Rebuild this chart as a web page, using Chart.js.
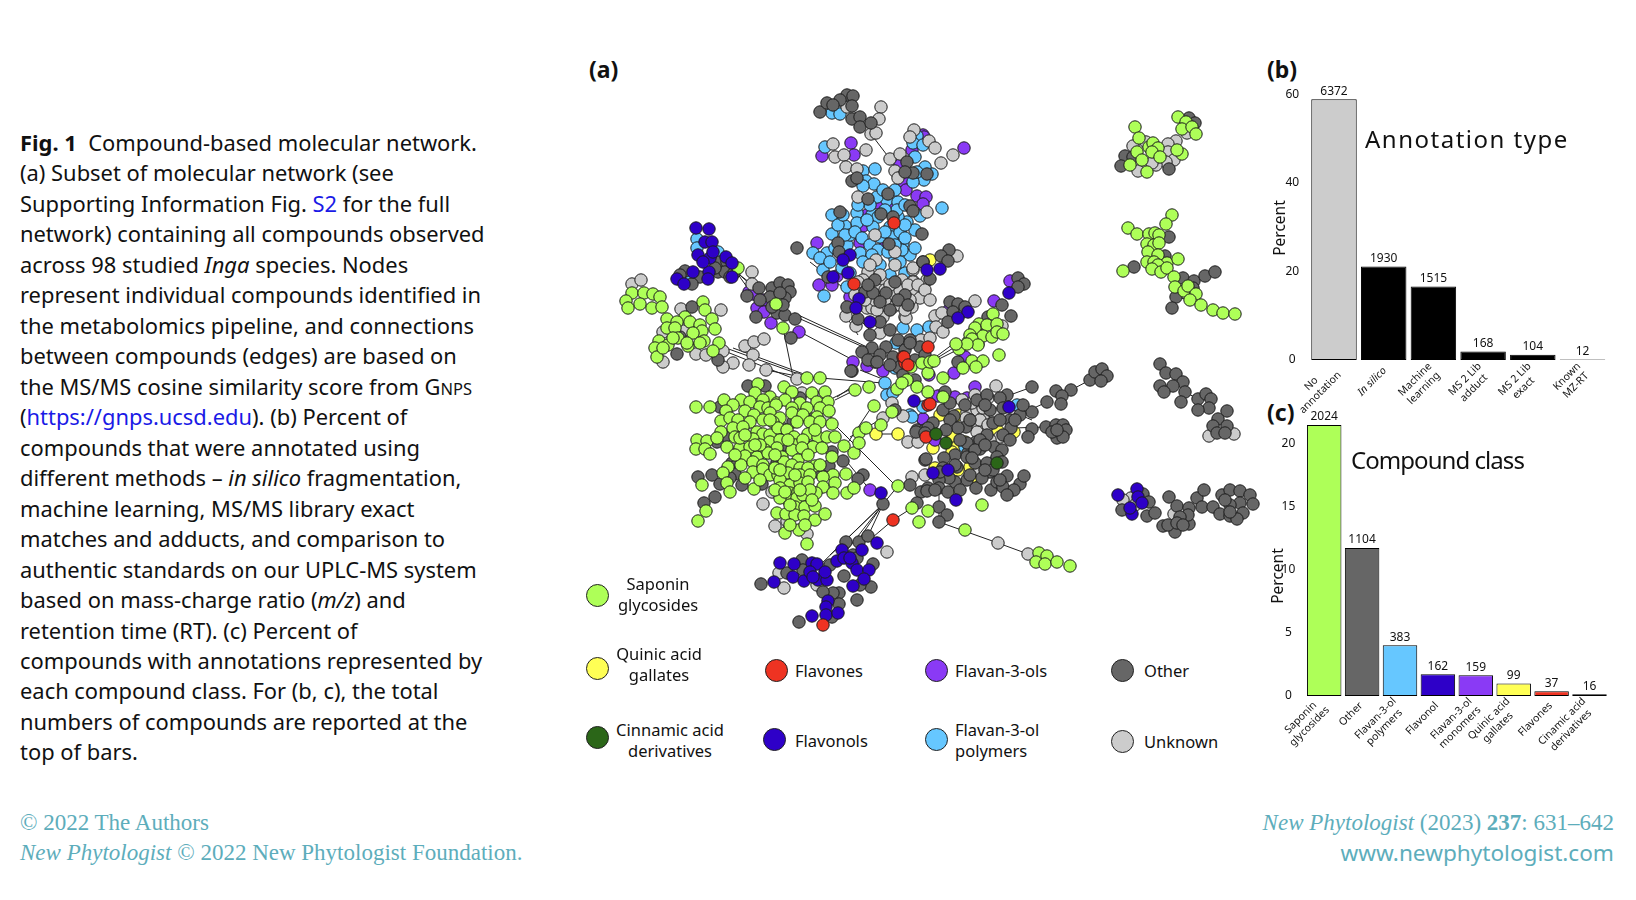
<!DOCTYPE html>
<html>
<head>
<meta charset="utf-8">
<title>Compound-based molecular network</title>
<script src="https://cdn.jsdelivr.net/npm/chart.js@4"></script>
<style>
  html, body { margin: 0; background: #fff; }
  body { width: 1636px; height: 900px; overflow: hidden; position: relative; font-family: "Noto Sans", sans-serif; color: #111; }
  canvas { position: absolute; }
  .cap { position: absolute; left: 20px; white-space: nowrap; font-size: 21.9px; line-height: 30px; }
  .cap a { color: #1a1ae6; }
  .sc { font-size: 16.5px; }
  .foot { position: absolute; white-space: nowrap; font-family: "Liberation Serif", serif; font-size: 23px; color: #5dadbb; line-height: 30px; }
  .web { font-family: "Noto Sans", sans-serif; font-size: 22.6px; }
  .panel { position: absolute; font-weight: 700; font-size: 23px; line-height: 28px; }
  .leg { position: absolute; font-size: 16.5px; line-height: 21px; white-space: nowrap; }
  .dot { position: absolute; width: 23px; height: 23px; border-radius: 50%; border: 1px solid #222; box-sizing: border-box; }
  .ptitle { position: absolute; white-space: nowrap; }
  .rot { position: absolute; white-space: nowrap; transform: translate(-50%, -50%) rotate(-90deg); font-size: 15.5px; }
</style>
</head>
<body>
<div id="caption"></div>
<div class="foot" style="left:20px;top:808px">© 2022 The Authors</div>
<div class="foot" style="left:20px;top:838px"><i>New Phytologist</i> © 2022 New Phytologist Foundation.</div>
<div class="foot" style="right:22px;top:808px"><i>New Phytologist</i> (2023) <b>237</b>: 631–642</div>
<div class="foot web" style="right:22px;top:838px">www.newphytologist.com</div>
<div class="panel" style="left:589px;top:55px">(a)</div>
<div class="panel" style="left:1267px;top:55px">(b)</div>
<div class="panel" style="left:1267px;top:398px">(c)</div>
<canvas id="network" width="682" height="570" style="left:580px;top:80px"></canvas>
<canvas id="annot" width="376" height="370" style="left:1260px;top:60px"></canvas>
<canvas id="compound" width="376" height="370" style="left:1260px;top:400px"></canvas>
<div class="ptitle" style="left:1365px;top:122px;font-size:24px;letter-spacing:1.5px;line-height:34px">Annotation type</div>
<div class="ptitle" style="left:1351px;top:442px;font-size:24px;letter-spacing:-0.95px;line-height:36px">Compound class</div>
<div class="rot" style="left:1279px;top:228px">Percent</div>
<div class="rot" style="left:1277px;top:576px">Percent</div>
<div id="legend"></div>
<script>
// caption lines as printed
const captionLines = [
  '<b>Fig. 1</b>&nbsp; Compound-based molecular network.',
  '(a) Subset of molecular network (see',
  'Supporting Information Fig. <a>S2</a> for the full',
  'network) containing all compounds observed',
  'across 98 studied <i>Inga</i> species. Nodes',
  'represent individual compounds identified in',
  'the metabolomics pipeline, and connections',
  'between compounds (edges) are based on',
  'the MS/MS cosine similarity score from G<span class="sc">NPS</span>',
  '(<a>https://gnps.ucsd.edu</a>). (b) Percent of',
  'compounds that were annotated using',
  'different methods – <i>in silico</i> fragmentation,',
  'machine learning, MS/MS library exact',
  'matches and adducts, and comparison to',
  'authentic standards on our UPLC-MS system',
  'based on mass-charge ratio (<i>m/z</i>) and',
  'retention time (RT). (c) Percent of',
  'compounds with annotations represented by',
  'each compound class. For (b, c), the total',
  'numbers of compounds are reported at the',
  'top of bars.'
];

// panel (b)
const annotLabels = [['No', 'annotation'], ['In silico'], ['Machine', 'learning'], ['MS 2 Lib', 'adduct'], ['MS 2 Lib', 'exact'], ['Known', 'MZ-RT']];
const annotPercent = [58.9, 21.1, 16.6, 1.9, 1.2, 0.1];
const annotCounts = [6372, 1930, 1515, 168, 104, 12];
const annotTicks = [0, 20, 40, 60];

// panel (c)
const compoundLabels = [['Saponin', 'glycosides'], ['Other'], ['Flavan-3-ol', 'polymers'], ['Flavonol'], ['Flavan-3-ol', 'monomers'], ['Quinic acid', 'gallates'], ['Flavones'], ['Cinamic acid', 'derivatives']];
const compoundPercent = [21.5, 11.74, 4.03, 1.72, 1.64, 1.0, 0.37, 0.13];
const compoundCounts = [2024, 1104, 383, 162, 159, 99, 37, 16];
const compoundTicks = [0, 5, 10, 15, 20];

// network nodes
const saponin = [[807,378],[820,378],[855,390],[869,387],[758,384],[784,387],[792,392],[755,393],[770,397],[812,393],[825,392],[724,400],[741,400],[750,402],[763,400],[777,403],[785,400],[800,403],[817,402],[828,402],[696,407],[710,407],[733,405],[760,407],[768,408],[776,405],[792,408],[807,408],[820,408],[829,411],[726,411],[745,411],[754,415],[770,413],[780,418],[792,413],[803,415],[817,417],[721,421],[730,418],[738,420],[750,422],[763,420],[773,422],[797,422],[810,422],[820,422],[832,424],[721,432],[733,428],[743,427],[757,432],[763,434],[770,435],[778,428],[787,430],[794,437],[808,434],[818,437],[827,437],[835,437],[697,440],[707,441],[717,438],[735,437],[753,439],[770,442],[780,440],[795,445],[803,440],[813,447],[822,448],[696,449],[705,449],[727,447],[740,448],[750,447],[765,450],[777,448],[792,450],[802,448],[710,454],[745,456],[757,457],[768,453],[782,457],[798,460],[808,455],[832,457],[844,446],[854,453],[859,433],[859,443],[728,467],[741,465],[753,462],[763,465],[784,462],[792,465],[800,468],[815,466],[808,468],[723,473],[753,472],[763,469],[770,475],[778,475],[788,473],[800,475],[810,475],[833,475],[846,474],[823,477],[727,483],[702,485],[745,478],[780,480],[790,485],[800,483],[808,482],[823,487],[835,483],[730,492],[754,489],[780,488],[790,493],[798,492],[816,493],[833,493],[847,493],[854,488],[788,500],[797,498],[803,495],[795,507],[805,507],[815,506],[780,498],[777,513],[786,514],[795,515],[804,516],[815,520],[825,514],[785,533],[799,530],[807,544],[706,511],[698,521],[874,406],[866,428],[881,425],[898,486],
  [815,430],[788,440],[740,438],[760,445],[775,490],[785,492],[810,490],[775,468],[795,475],[745,435],[770,420],[755,445],[780,470],[800,490],[790,505],[820,465],[735,455],[760,480],[775,455],[812,500],[805,525],[790,525],
  [632,293],[644,293],[626,301],[640,304],[628,308],[653,294],[660,297],[652,308],[662,307],[703,302],[705,310],[685,317],[667,319],[712,319],[677,322],[690,322],[700,325],[667,328],[675,328],[715,329],[702,331],[693,333],[659,341],[668,345],[655,348],[657,357],[688,346],[704,341],[719,343],[713,351],[678,338],[687,343],[700,343],[673,338],[663,348],[776,304],[783,328],
  [911,367],[922,363],[928,373],[897,389],[917,387],[907,380],[902,383],[928,392],[892,412],[912,508],[919,522],[928,511],[965,530],[982,505],[1039,553],[1047,556],[1036,562],[1045,564],[1057,562],[1070,566],[943,378],[943,397],[930,362],[959,349],[972,361],[983,361],[976,367],[999,355],[963,368],[968,342],[978,344],[993,314],[979,324],[975,328],[987,325],[997,324],[970,335],[983,336],[992,337],[997,332],[1003,334],[972,339],[978,345],[967,344],[956,344],[934,361],[738,268],
  [1135,127],[1178,117],[1186,122],[1182,129],[1192,127],[1196,134],[1139,138],[1137,152],[1149,147],[1153,143],[1158,148],[1142,160],[1130,165],[1147,172],[1182,154],[1152,152],[1160,157],[1177,150],
  [1172,215],[1166,224],[1128,228],[1137,234],[1149,234],[1155,233],[1159,235],[1147,244],[1154,245],[1159,243],[1148,252],[1158,255],[1147,262],[1167,263],[1178,259],[1123,271],[1154,262],[1158,265],[1152,269],[1161,272],[1167,268],[1174,277],[1175,287],[1184,291],[1188,286],[1196,294],[1190,300],[1201,305],[1213,310],[1223,313],[1235,314]];
const other = [[820,112],[827,103],[847,95],[853,96],[840,100],[833,105],[852,106],[852,119],[860,117],[860,127],[871,123],[852,181],[857,178],[868,199],[907,162],[913,173],[927,174],[905,172],[910,206],[913,211],[922,234],[840,212],[888,194],[881,214],[797,248],[838,243],[839,252],[889,244],[893,217],[923,262],[828,277],[847,307],[858,319],[895,282],[905,295],[875,280],[886,293],[872,348],[886,347],[910,340],[898,367],[903,375],[875,362],[852,371],[920,347],[893,357],[685,271],[680,275],[700,277],[692,284],[720,262],[727,262],[718,272],[725,272],[730,277],[734,273],[715,268],[759,288],[772,288],[780,283],[788,285],[790,292],[785,298],[770,297],[747,296],[760,300],[777,313],[785,315],[795,319],[756,317],[791,338],[780,293],[783,305],[772,307],[692,307],[677,354],[680,337],[718,360],
  [865,292],[873,293],[898,300],[890,310],[880,302],[868,285],[908,305],[880,322],[890,330],[870,335],[898,340],[905,350],[880,355],[862,352],[868,360],[890,365],[915,360],[925,355],
  [720,407],[793,422],[782,428],[785,445],[725,437],[717,442],[742,449],[760,453],[777,463],[732,463],[737,465],[735,474],[742,485],[730,478],[720,484],[762,484],[820,473],[829,466],[843,461],[832,452],[812,447],[809,418],[800,398],[698,477],[712,475],[715,497],[704,503],[863,475],[858,479],[748,386],[765,386],
  [883,504],[761,584],[802,560],[846,542],[859,542],[868,536],[873,564],[857,600],[871,587],[799,622],[839,593],[833,593],[839,604],[844,576],[823,592],[787,573],[803,570],[830,565],[853,555],[857,558],[860,585],[832,617],[851,371],[877,362],[895,410],[917,430],[925,430],[915,380],[925,460],[921,492],[917,503],[910,485],[928,488],
  [1032,387],[1056,391],[1071,390],[1062,396],[1047,402],[1061,404],[1090,380],[1095,372],[1102,369],[1107,376],[1101,381],[1032,412],[1032,429],[1046,427],[1028,437],[1056,425],[1063,425],[1066,430],[1057,438],[1052,432],[1063,437],[1057,430],[945,392],[943,410],[954,416],[966,427],[977,400],[987,395],[1007,395],[1000,398],[1003,408],[1010,420],[1020,415],[1023,405],[1011,428],[1015,420],[993,423],[987,435],[976,442],[980,449],[968,453],[955,455],[944,458],[926,459],[916,432],[933,423],[928,428],[925,433],[994,447],[1002,450],[997,457],[990,472],[976,488],[967,480],[955,482],[949,478],[939,480],[939,488],[948,492],[939,507],[947,515],[939,522],[927,491],[991,490],[997,482],[1007,476],[1020,484],[1024,476],[1003,487],[1014,490],[1007,495],[980,440],[967,443],[957,467],[943,468],[940,472],[967,457],[975,463],[987,463],[993,470],[1002,462],
  [950,420],[958,428],[970,420],[960,440],[975,450],[985,445],[955,465],[970,475],[982,478],[960,490],[972,458],[946,430],[990,410],[1000,420],[1003,435],[985,470],[1010,440],[965,405],[950,403],[985,405],[1000,480],[935,490],
  [1011,316],[1002,305],[988,317],[958,362],[950,302],[958,304],[965,307],[953,312],[948,322],[1018,278],[1024,284],[1018,287],[910,343],[949,250],[941,256],[948,261],[923,262],[930,279],
  [1189,118],[1195,123],[1125,156],[1121,166],[1169,169],[1133,157],[1169,237],[1165,256],[1134,267],[1183,278],[1194,281],[1193,288],[1205,276],[1215,272],[1176,297],[1172,308],
  [1160,364],[1166,373],[1176,374],[1183,382],[1173,386],[1160,386],[1164,392],[1185,392],[1181,402],[1198,399],[1206,394],[1211,399],[1209,408],[1198,410],[1227,411],[1218,419],[1227,426],[1213,426],[1217,433],[1225,433],
  [1143,494],[1149,502],[1122,510],[1147,516],[1155,513],[1169,497],[1177,506],[1189,508],[1163,526],[1175,532],[1189,524],[1188,515],[1180,517],[1168,525],[1177,523],[1183,525],[1197,498],[1204,490],[1202,507],[1213,507],[1222,495],[1230,490],[1240,491],[1250,495],[1253,504],[1240,503],[1230,505],[1220,514],[1230,516],[1243,513],[1237,519],[1230,512],[1225,500]];
const unknown = [[847,107],[881,107],[879,119],[871,134],[876,133],[833,144],[835,157],[844,155],[866,150],[846,167],[857,169],[890,159],[858,197],[914,130],[910,137],[929,141],[935,148],[941,163],[953,155],[900,154],[895,171],[898,178],[927,212],[875,235],[876,260],[895,252],[867,308],[872,308],[846,316],[856,326],[868,272],[913,281],[905,317],[880,333],[892,297],[872,297],[863,280],[883,283],[915,293],[920,298],[902,280],[893,307],[883,317],[877,310],[912,307],[913,270],[927,280],[957,256],[913,282],[913,268],[921,340],[930,338],[975,301],[935,316],[942,313],[936,327],[943,332],[1002,326],[906,318],[632,284],[641,280],[681,309],[721,310],[683,331],[663,332],[696,354],[706,355],[663,362],[723,351],[752,272],[752,284],[745,346],[754,342],[764,339],[753,355],[733,363],[723,367],[749,365],[766,370],
  [860,290],[868,288],[878,290],[885,300],[895,295],[900,290],[908,285],[910,300],[900,305],[885,290],[875,300],[865,300],[855,295],[890,285],[880,275],[870,265],[895,265],[905,310],[918,285],[925,290],[930,300],[858,282],
  [747,431],[772,492],[763,504],[775,526],[787,521],[807,534],[825,418],[817,398],[772,458],[797,379],[802,393],[912,477],[883,418],[903,416],[908,442],[918,442],[779,573],[784,588],[887,552],[817,585],[892,403],[925,475],[996,386],[967,412],[988,398],[995,414],[977,410],[972,403],[977,427],[983,417],[1000,437],[977,432],[979,471],[993,463],[998,543],[1028,554],
  [962,400],[970,420],[980,420],[966,418],[988,425],[975,395],[983,408],[990,440],
  [1176,141],[1168,144],[1146,142],[1133,146],[1168,152],[1174,160],[1166,162],[1156,165],[1138,171],[1187,133],[1152,163],[1209,436],[1234,434],[1131,498],[1123,500],[1135,505],[1174,514]];
const polymers = [[832,113],[840,114],[825,147],[863,171],[875,169],[866,181],[874,184],[863,186],[917,136],[913,143],[923,145],[915,157],[932,174],[924,180],[913,182],[925,167],[917,172],[942,208],[920,216],[907,222],[915,230],[832,215],[857,213],[857,223],[845,226],[832,234],[872,215],[878,217],[887,200],[877,197],[898,202],[898,217],[813,253],[827,253],[860,253],[847,245],[850,235],[890,227],[880,237],[895,259],[903,243],[910,255],[902,250],[823,270],[850,273],[847,287],[824,296],[890,275],[905,273],[892,237],[873,227],[867,220],[697,239],[697,248],[718,252],[691,279],[896,343],[917,330],[903,328],[895,368],[962,312],[929,327],[885,383],[887,395],[910,415],[893,393],[1017,405],[923,407],[912,417],[965,447],[992,443],
  [838,225],[845,235],[855,232],[862,238],[870,245],[878,250],[885,232],[900,232],[905,238],[897,210],[870,205],[885,210],[858,205],[843,215],[835,248],[842,268],[820,258],[830,262],[880,265],[900,262],[888,252],[872,255],[863,262],[895,245],[915,248],[905,225],[883,190],[895,190],[905,205]];
const flavonols = [[850,255],[843,260],[848,273],[833,277],[859,299],[856,308],[870,322],[696,228],[709,229],[705,242],[712,242],[698,255],[710,258],[713,252],[726,257],[732,263],[693,272],[677,279],[684,284],[709,272],[708,279],[732,277],[703,262],[881,493],[780,563],[794,564],[774,582],[793,577],[804,581],[812,563],[817,564],[810,572],[818,580],[827,580],[825,572],[837,561],[842,550],[844,558],[862,550],[852,563],[857,570],[869,570],[864,579],[853,586],[877,543],[828,601],[826,607],[812,616],[826,615],[838,613],[850,558],[813,577],[914,401],[1009,407],[956,500],[933,473],[948,470],[1009,293],[968,312],[958,318],[927,270],[940,269],[1118,495],[1137,489],[1138,497],[1142,503],[1132,514],[1130,508]];
const flavanols = [[851,143],[822,156],[854,155],[923,135],[912,150],[900,165],[904,182],[906,190],[867,215],[863,226],[878,203],[893,207],[817,243],[860,243],[886,243],[837,276],[819,285],[832,285],[850,297],[917,196],[926,197],[923,204],[964,148],[924,137],[853,362],[867,366],[883,371],[749,292],[753,294],[763,300],[757,308],[764,312],[771,323],[799,332],[870,490],[923,420],[929,375],[954,373],[975,387],[938,396],[955,397],[923,419],[935,440],[967,398],[994,301],[1010,281],[949,310],[965,357]];
const flavones = [[894,223],[903,357],[928,347],[854,284],[893,520],[928,405],[926,437],[905,363],[823,625],[930,404],[904,357],[908,365]];
const gallates = [[876,434],[898,434],[933,448],[953,437],[954,448],[950,418],[958,415],[968,415],[998,431],[1014,432],[970,467],[958,470],[935,468],[952,452],[965,442],[940,415],[972,477],[930,260]];
const cinnamic = [[936,434],[946,443],[997,463]];

// edges as x1, y1, x2, y2
const edges = [[871,134,890,159],[794,313,867,347],[787,313,870,350],[804,334,853,360],[783,328,793,377],[723,347,807,377],[733,348,820,380],[727,352,797,380],[820,378,883,383],[833,398,853,388],[835,400,855,390],[837,397,853,386],[827,417,897,487],[883,504,847,550],[883,504,855,545],[883,504,868,536],[883,504,830,555],[883,504,820,565],[893,520,873,537],[893,520,920,503],[898,486,883,504],[845,447,873,405],[850,437,883,418],[848,463,870,490],[939,522,998,543],[998,543,1028,554],[937,358,955,347],[937,360,957,350],[937,356,953,344],[1090,380,1071,390],[1032,387,1010,395],[1047,402,1023,413],[1032,420,1020,415],[1046,427,1013,428],[747,287,737,273],[751,285,734,270],[754,286,731,268],[1185,392,1198,399],[871,123,847,107],[764,339,745,346],[860,370,885,380],[766,370,807,378],[847,307,870,330],[899,434,876,434],[850,293,810,262],[846,316,858,335],[939,522,939,490],[1176,297,1190,300]];

// legend rows: label lines and swatch colour
const legendNames = [['Saponin', 'glycosides'], ['Quinic acid', 'gallates'], ['Flavones'], ['Flavan-3-ols'], ['Other'], ['Cinnamic acid', 'derivatives'], ['Flavonols'], ['Flavan-3-ol', 'polymers'], ['Unknown']];
const legendColors = ['#aeff58', '#ffff55', '#ee3322', '#8a3af5', '#666666', '#2b6618', '#2e00c8', '#66c7ff', '#cccccc'];
const legendDots = [[597, 595], [597, 668], [776, 670], [936, 670], [1122, 670], [597, 737], [774, 739], [936, 739], [1122, 741]];
const legendText = [[658, 594, 'center'], [659, 664, 'center'], [795, 670, 'left'], [955, 670, 'left'], [1144, 670, 'left'], [670, 740, 'center'], [795, 740, 'left'], [955, 740, 'left'], [1144, 741, 'left']];

const FONT = '"Noto Sans", sans-serif';

const cap = document.getElementById('caption');
captionLines.forEach((line, i) => {
    const d = document.createElement('div');
    d.className = 'cap';
    d.style.top = (128 + i * 30.47) + 'px';
    d.innerHTML = line;
    cap.appendChild(d);
});

const leg = document.getElementById('legend');
legendNames.forEach((lines, i) => {
    const dot = document.createElement('div');
    dot.className = 'dot';
    dot.style.left = (legendDots[i][0] - 11.5) + 'px';
    dot.style.top = (legendDots[i][1] - 11.5) + 'px';
    dot.style.background = legendColors[i];
    leg.appendChild(dot);
    const t = document.createElement('div');
    t.className = 'leg';
    const [tx, ty, align] = legendText[i];
    t.style.left = tx + 'px';
    t.style.top = (ty - lines.length * 10.5) + 'px';
    t.style.textAlign = align;
    if (align === 'center') t.style.transform = 'translateX(-50%)';
    t.innerHTML = lines.join('<br>');
    leg.appendChild(t);
});

function nodeSet(points, color, order) {
    return {
        data: points.map(p => ({ x: p[0], y: p[1] })),
        backgroundColor: color,
        borderColor: '#1c1c1c',
        borderWidth: 1,
        pointRadius: 6.2,
        showLine: false,
        order: order,
        clip: false
    };
}

const edgePoints = [];
edges.forEach(e => {
    edgePoints.push({ x: e[0], y: e[1] }, { x: e[2], y: e[3] }, { x: null, y: null });
});

new Chart(document.getElementById('network').getContext('2d'), {
    type: 'scatter',
    data: {
        datasets: [
            { data: edgePoints, showLine: true, borderColor: '#222', borderWidth: 1, pointRadius: 0, spanGaps: false, order: 20 },
            nodeSet(gallates, '#ffff55', 9),
            nodeSet(flavanols, '#8a3af5', 8),
            nodeSet(polymers, '#66c7ff', 7),
            nodeSet(unknown, '#cccccc', 6),
            nodeSet(other, '#666666', 5),
            nodeSet(saponin, '#aeff58', 4),
            nodeSet(flavonols, '#2e00c8', 3),
            nodeSet(flavones, '#ee3322', 2),
            nodeSet(cinnamic, '#2b6618', 1)
        ]
    },
    options: {
        responsive: false,
        animation: false,
        layout: { padding: 0, autoPadding: false },
        plugins: { legend: { display: false }, tooltip: { enabled: false } },
        scales: {
            x: { type: 'linear', display: false, min: 580, max: 1262 },
            y: { type: 'linear', display: false, min: 80, max: 650, reverse: true }
        }
    }
});

// counts above the bars and slanted two line category labels
const barExtras = {
    id: 'barExtras',
    afterDatasetsDraw(chart, args, opts) {
        const ctx = chart.ctx;
        const meta = chart.getDatasetMeta(0);
        const base = chart.scales.y.getPixelForValue(0);
        ctx.save();
        ctx.fillStyle = '#111';
        meta.data.forEach((bar, i) => {
            ctx.font = '12px ' + FONT;
            ctx.textAlign = 'center';
            ctx.textBaseline = 'middle';
            ctx.fillText(String(opts.counts[i]), bar.x, bar.y - 8);

            const lines = opts.labels[i];
            ctx.font = (opts.italic === i ? 'italic ' : '') + opts.labelSize + 'px ' + FONT;
            const widest = Math.max(...lines.map(l => ctx.measureText(l).width));
            const shift = widest / 2 * Math.SQRT1_2;
            ctx.save();
            ctx.translate(bar.x + opts.endX - shift, base + opts.endY + shift);
            ctx.rotate(-Math.PI / 4);
            lines.forEach((l, k) => {
                ctx.fillText(l, 0, (k - (lines.length - 1) / 2) * 12.5);
            });
            ctx.restore();
        });
        ctx.restore();
    }
};

function barChart(id, labels, values, counts, colors, tickVals, yMax, area, barPct, extra) {
    return new Chart(document.getElementById(id).getContext('2d'), {
        type: 'bar',
        data: {
            labels: labels,
            datasets: [{
                data: values,
                backgroundColor: colors,
                borderColor: '#000',
                borderWidth: 1,
                borderSkipped: false,
                barPercentage: barPct,
                categoryPercentage: 1
            }]
        },
        options: {
            responsive: false,
            animation: false,
            layout: { padding: area.padding, autoPadding: false },
            plugins: {
                legend: { display: false },
                tooltip: { enabled: false },
                barExtras: Object.assign({ labels: labels, counts: counts, labelSize: 10.5, endX: 1, endY: 9 }, extra)
            },
            scales: {
                x: { display: false },
                y: {
                    min: 0,
                    max: yMax,
                    afterFit(scale) { scale.width = area.yWidth; },
                    afterBuildTicks(scale) { scale.ticks = tickVals.map(v => ({ value: v })); },
                    grid: { display: false, drawTicks: false },
                    border: { display: false },
                    ticks: {
                        padding: 10,
                        crossAlign: 'center',
                        color: '#111',
                        font: { family: FONT, size: 12 }
                    }
                }
            }
        },
        plugins: [barExtras]
    });
}

barChart('annot', annotLabels, annotPercent, annotCounts,
    ['#cccccc', '#000', '#000', '#000', '#000', '#000'], annotTicks, 60,
    { padding: { left: 10, right: 28.65, top: 34.3, bottom: 70 }, yWidth: 39.15 }, 0.915, { italic: 1 });

barChart('compound', compoundLabels, compoundPercent, compoundCounts,
    ['#aeff58', '#666666', '#66c7ff', '#2e00c8', '#8a3af5', '#ffff55', '#ee3322', '#2b6618'], compoundTicks, 22,
    { padding: { left: 10.25, right: 27.55, top: 18.6, bottom: 74 }, yWidth: 35 }, 0.91, { endX: -1, endY: 8 });
</script>
</body>
</html>
